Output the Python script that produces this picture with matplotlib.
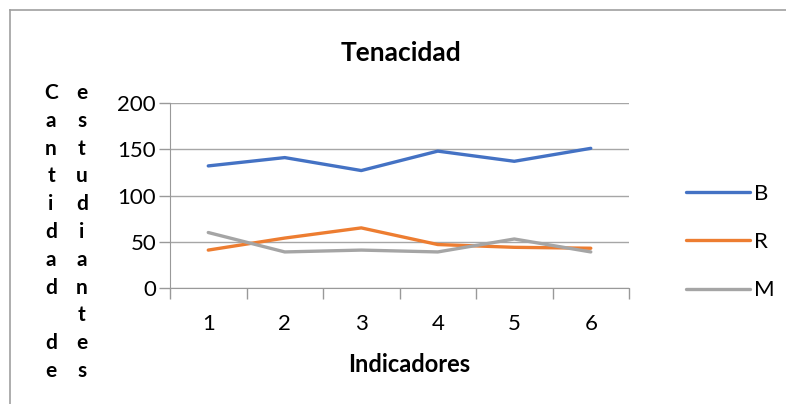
import matplotlib
matplotlib.use("Agg")
import matplotlib.pyplot as plt
from matplotlib.lines import Line2D

# datos
indicadores = [1, 2, 3, 4, 5, 6]
serie_b = [132, 141, 127, 148, 137, 151]
serie_r = [41, 54, 65, 47, 44, 43]
serie_m = [60, 39, 41, 39, 53, 39]
nombres = ["B", "R", "M"]
colores = ["#4472C4", "#ED7D31", "#A5A5A5"]
yticks = [0, 50, 100, 150, 200]

plt.rcParams["font.family"] = ["Lato", "DejaVu Sans"]

fig = plt.figure(figsize=(7.86, 4.04), dpi=100)
ax = fig.add_axes([0.2163, 0.2871, 0.584, 0.4579])

for datos, nom, col in zip([serie_b, serie_r, serie_m], nombres, colores):
    ax.plot(indicadores, datos, color=col, lw=2.4, label=nom, solid_capstyle="round")

ax.set_xlim(0.5, 6.5)
ax.set_ylim(0, 200)
ax.set_yticks(yticks)
ax.set_xticks([i + 0.5 for i in range(0, 7)])
ax.set_xticklabels([])
ax.set_xticks(indicadores, minor=True)
ax.set_xticklabels([str(i) for i in indicadores], minor=True)
ax.tick_params(axis="x", which="major", length=8, color="#999999", width=1)
ax.tick_params(axis="x", which="minor", length=0, pad=19, labelsize=16)
ax.tick_params(axis="y", length=8, color="#999999", width=1, labelsize=16, pad=2)
ax.grid(axis="y", color="#a6a6a6", lw=1)
ax.set_axisbelow(True)
for s in ["top", "right"]:
    ax.spines[s].set_visible(False)
for s in ["left", "bottom"]:
    ax.spines[s].set_color("#999999")

fig.text(0.51, 0.87, "Tenacidad", ha="center", va="center", fontsize=19, fontweight="bold")
fig.text(0.521, 0.097, "Indicadores", ha="center", va="center", fontsize=17, fontweight="bold")

col1 = list("Cantidad") + [" "] + list("de")
col2 = list("estudiantes")
for i, (a, b) in enumerate(zip(col1, col2)):
    y = 1 - (93 + i * 27.8) / 404
    fig.text(51 / 786, y, a, ha="center", va="center", fontsize=15, fontweight="bold")
    fig.text(82 / 786, y, b, ha="center", va="center", fontsize=15, fontweight="bold")

fig.legend(loc="center left", bbox_to_anchor=(0.873, 0.401), frameon=False,
           fontsize=16, handlelength=2.85, labelspacing=1.28, handletextpad=0.2,
           borderaxespad=0, borderpad=0)

# borde del gráfico
fig.add_artist(Line2D([9.5 / 786, 9.5 / 786], [0, 1 - 10 / 404], color="#a0a0a0", lw=1.2))
fig.add_artist(Line2D([9.5 / 786, 1], [1 - 10 / 404, 1 - 10 / 404], color="#a0a0a0", lw=1.2))

fig.savefig("out.png", dpi=100)
